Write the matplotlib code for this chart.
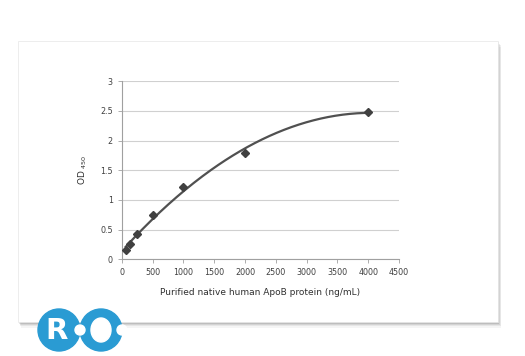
import numpy as np
import matplotlib
matplotlib.use("Agg")
import matplotlib.pyplot as plt
from matplotlib.patches import Rectangle, Circle, Ellipse

conc = [62.5, 125, 250, 500, 1000, 2000, 4000]
od = [0.15, 0.25, 0.42, 0.75, 1.21, 1.79, 2.48]
xticks = [0, 500, 1000, 1500, 2000, 2500, 3000, 3500, 4000, 4500]
yticks = [0, 0.5, 1, 1.5, 2, 2.5, 3]
ytick_labels = ["0", "0.5", "1", "1.5", "2", "2.5", "3"]

fig = plt.figure(figsize=(5.25, 3.56), dpi=100)
fig.patch.set_facecolor("white")

# card with soft shadow
for i, a in enumerate([0.04, 0.06, 0.08, 0.10]):
    d = (4 - i) * 0.004
    fig.patches.append(Rectangle((0.035 + d * 0.3, 0.095 - d), 0.915, 0.79, transform=fig.transFigure,
                                 facecolor="black", alpha=a, edgecolor="none", zorder=0))
fig.patches.append(Rectangle((0.035, 0.095), 0.913, 0.79, transform=fig.transFigure,
                             facecolor="white", edgecolor="#e6e6e6", lw=0.5, zorder=1))

ax = fig.add_axes([0.232, 0.272, 0.528, 0.5])
ax.set_facecolor("none")
ax.set_zorder(2)

coef = np.polyfit(conc, od, 2)
xs = np.linspace(conc[0], conc[-1], 200)
ax.plot(xs, np.polyval(coef, xs), color="#505050", lw=1.6, zorder=3)
ax.plot(conc, od, "D", color="#404040", ms=4.5, zorder=4)

ax.set_xlim(0, 4500)
ax.set_ylim(0, 3)
ax.set_xticks(xticks)
ax.set_yticks(yticks)
ax.set_yticklabels(ytick_labels)
ax.grid(axis="y", color="#d0d0d0", lw=0.8)
ax.set_axisbelow(True)
for s in ["top", "right"]:
    ax.spines[s].set_visible(False)
for s in ["left", "bottom"]:
    ax.spines[s].set_color("#a0a0a0")
    ax.spines[s].set_linewidth(0.8)
ax.tick_params(labelsize=5.8, colors="#404040", length=3, width=0.6)
ax.tick_params(axis="both", color="#a0a0a0")
ax.set_xlabel("Purified native human ApoB protein (ng/mL)", fontsize=6.5, color="#303030", labelpad=8)
ax.set_ylabel(r"OD $_{450}$", fontsize=6.5, color="#303030", labelpad=8)

# logo, drawn in pixel coordinates
blue = "#2a9bd3"
lax = fig.add_axes([0, 0, 1, 1])
lax.set_xlim(0, 525)
lax.set_ylim(356, 0)
lax.axis("off")
lax.set_zorder(5)
lax.add_patch(Circle((59, 330), 21, color=blue))
lax.add_patch(Circle((101, 330), 21, color=blue))
lax.add_patch(Ellipse((101, 330), 20, 24, color="white"))
lax.add_patch(Circle((80, 330), 5, color="white"))
lax.add_patch(Circle((122, 330), 5, color="white"))
lax.text(57, 331, "R", color="white", fontsize=21, fontweight="bold", ha="center", va="center")

fig.savefig("out.png", dpi=100)
